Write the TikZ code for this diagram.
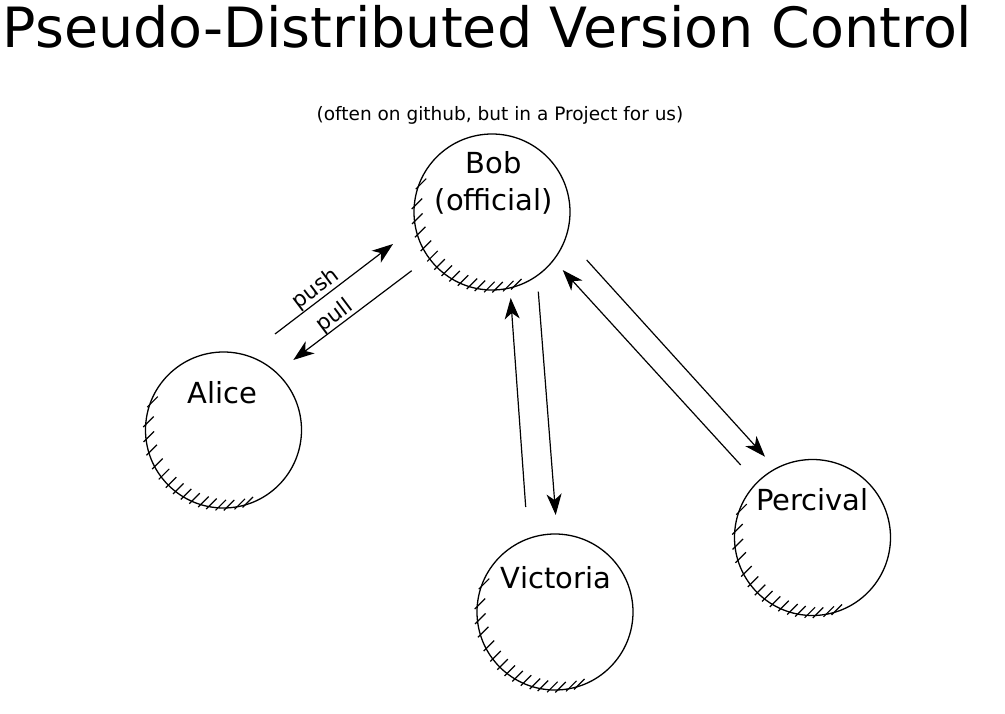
\documentclass[tikz,border=0pt]{standalone}
\usepackage{fontspec}
\setmainfont{DejaVu Sans}
\usetikzlibrary{calc, positioning}
\usetikzlibrary{arrows.meta}

\begin{document}
\begin{tikzpicture}[x=1pt, y=-1pt,
  repo/.style={draw, circle, line width=1.3pt, minimum size=156pt, inner sep=0pt},
  who/.style={font=\fontsize{29}{37}\selectfont, inner sep=0pt},
  flow/.style={line width=1.2pt, -{Stealth[length=21pt, width=15pt, inset=6pt]}},
  verb/.style={font=\fontsize{21.5}{24}\selectfont, inner sep=0pt, rotate=37}]
\def\rad{78pt}
\useasboundingbox (0,0) rectangle (1005,714);

\node[anchor=base, font=\fontsize{55.5}{66}\selectfont, inner sep=0pt] (title) at (487.5,48) {Pseudo-Distributed Version Control};
\node[anchor=base, font=\fontsize{18.5}{22}\selectfont, inner sep=0pt] (note) at (500,121) {(often on github, but in a Project for us)};

\node[repo] (bob) at (492,212) {};
\node[repo] (alice) at (223.5,430) {};
\node[repo] (victoria) at (555,612) {};
\node[repo] (percival) at (812.5,537.5) {};

% hatching on the lower left of each repo
\foreach \n in {bob, alice, victoria, percival}
  \foreach \a in {161,176,187,197,208,217,225,232,239,246,253,259,266,272,280,286}
    \draw[line width=1.2pt] ($(\n.center)+(\a:\rad)+(-2.5,2.5)$) -- ++(10.5,-10.5);

\node[who, align=center] (bobname) at ($(bob.center)+(2,-29.5)$) {Bob\\(official)};
\node[who, anchor=base] (alicename) at ($(alice.center)+(-1,-27)$) {Alice};
\node[who, anchor=base] (victorianame) at ($(victoria.center)+(1,-24)$) {Victoria};
\node[who, anchor=base] (percivalname) at ($(percival.center)+(0,-27.5)$) {Percival};

\coordinate (pushS) at (275,334);
\coordinate (pushE) at (393,244);
\coordinate (pullS) at (411.7,270.7);
\coordinate (pullE) at (293.3,360);
\coordinate (toVicS) at (538.3,291.7);
\coordinate (toVicE) at (555.7,515);
\coordinate (fromVicS) at (525.7,507);
\coordinate (fromVicE) at (510.7,298);
\coordinate (toPercS) at (586.7,260);
\coordinate (toPercE) at (765,456.7);
\coordinate (fromPercS) at (740.7,465);
\coordinate (fromPercE) at (562.7,270);

\draw[flow] (pushS) -- (pushE);
\draw[flow] (pullS) -- (pullE);
\draw[flow] (toVicS) -- (toVicE);
\draw[flow] (fromVicS) -- (fromVicE);
\draw[flow] (toPercS) -- (toPercE);
\draw[flow] (fromPercS) -- (fromPercE);

\node[verb] (pushlbl) at (316,289) {push};
\node[verb] (pulllbl) at (335,316) {pull};
\end{tikzpicture}
\end{document}
